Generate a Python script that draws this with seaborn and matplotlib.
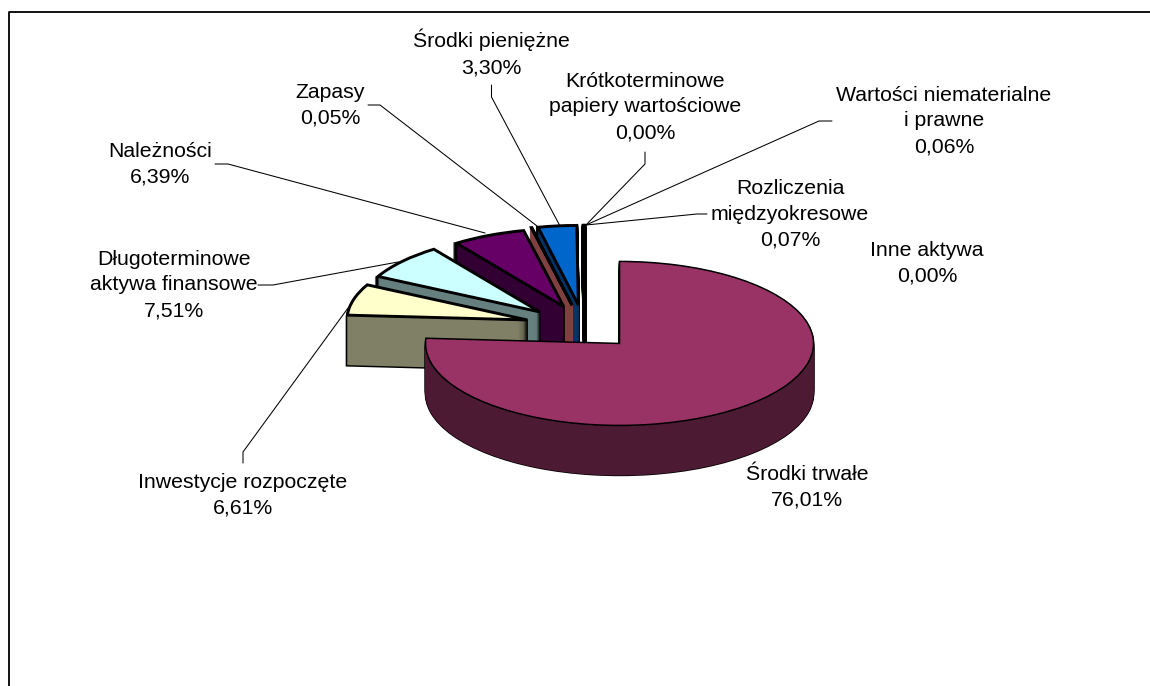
import numpy as np
import matplotlib
matplotlib.use('Agg')
import matplotlib.pyplot as plt
from matplotlib.colors import to_rgb
from matplotlib.lines import Line2D
import seaborn as sns

# values, clockwise from 12 o'clock
names = ['Środki trwałe', 'Inwestycje rozpoczęte', 'Długoterminowe\naktywa finansowe', 'Należności',
         'Zapasy', 'Środki pieniężne', 'Krótkoterminowe\npapiery wartościowe',
         'Wartości niematerialne\ni prawne', 'Rozliczenia\nmiędzyokresowe', 'Inne aktywa']
shares = [76.01, 6.61, 7.51, 6.39, 0.05, 3.30, 0.00, 0.06, 0.07, 0.00]
colors = ['#993366', '#FFFFCC', '#CCFFFF', '#660066', '#FF8080',
          '#0066CC', '#CCCCFF', '#000080', '#FF00FF', '#FFFF00']

# label centres and leader lines, in pixels
label_pos = [(807, 487), (243, 495), (174, 285), (160, 164), (330, 105),
             (491, 53), (645, 107), (944, 121), (790, 214), (927, 263)]
leaders = [[(243, 463), (243, 452), (348, 308)],
           [(258, 285), (273, 285), (398, 262)],
           [(215, 164), (228, 164), (485, 233)],
           [(368, 105), (380, 105), (537, 226)],
           [(491.5, 85), (491.5, 97), (560, 226)],
           [(645, 152), (645, 164), (585, 226)],
           [(832, 121), (819, 121), (586, 225)],
           [(707, 214), (697, 214), (586, 225)]]

W, H = 1150, 686
CX, CY = 585, 325.5
RX, RY = 194, 82
DEPTH = 50
radii = [1.0, 0.93, 0.94, 0.95, 0.97, 0.97, 0.97, 0.97, 0.97, 0.97]
explode_x = [0.26, 0.308, 0.308, 0.27, 0.308, 0.308, 0.308, 0.308, 0.308, 0.308]
explode_y = [0.30] + [0.252] * 9
draw_order = [9, 8, 7, 6, 5, 4, 3, 2, 1, 0]
painted_sliver = [4]  # thin slice whose wall shows as a coloured strip


def pie_slice(ax, share, start, center, radius, color, edge, lw, zorder):
    wedges, _ = ax.pie([share, 100 - share], startangle=90 - start, counterclock=False,
                       center=center, radius=radius, colors=[color, 'none'], labeldistance=None,
                       wedgeprops=dict(edgecolor=edge, linewidth=lw, zorder=zorder, joinstyle='miter'))
    wedges[1].remove()


def px_line(fig, pts, lw, color='black'):
    xs = [p[0] / W for p in pts]
    ys = [1 - p[1] / H for p in pts]
    fig.add_artist(Line2D(xs, ys, transform=fig.transFigure, color=color, lw=lw))


sns.set_theme(style='white')
plt.rcParams['font.family'] = ['Liberation Sans', 'DejaVu Sans']

fig = plt.figure(figsize=(W / 100, H / 100), dpi=100)
ax = fig.add_axes([0, 0, 1, 1])

palette = sns.color_palette(colors)
walls = [tuple(np.array(to_rgb(c)) * 0.5) for c in palette]
starts = np.concatenate([[0], np.cumsum(shares)[:-1]]) * 3.6

for rank, i in enumerate(draw_order):
    mid = np.radians(starts[i] + shares[i] * 1.8)
    cx = explode_x[i] * np.sin(mid)
    cy = explode_y[i] * np.cos(mid)
    lw = 1.1 if i == 0 else 2.1
    base = rank * 10
    # side wall: outlined stack first, then the same stack filled so only the silhouette stays black
    for d in range(DEPTH, 0, -1):
        center = (cx, cy - d / RY)
        if i in painted_sliver:
            pie_slice(ax, shares[i], starts[i], center, radii[i], walls[i], walls[i], 1.5, base + 2)
        else:
            pie_slice(ax, shares[i], starts[i], center, radii[i], walls[i], 'black', lw, base + 1)
            pie_slice(ax, shares[i], starts[i], center, radii[i], walls[i], 'none', 0, base + 2)
    pie_slice(ax, shares[i], starts[i], (cx, cy), radii[i], palette[i], 'black', lw, base + 3)

ax.set_aspect('auto')
ax.set_xlim(-CX / RX, (W - CX) / RX)
ax.set_ylim((CY - H) / RY, CY / RY)
ax.axis('off')

for name, share, (x, y) in zip(names, shares, label_pos):
    label = name + '\n' + f'{share:.2f}'.replace('.', ',') + '%'
    fig.text(x / W, 1 - y / H, label, ha='center', va='center', ma='center',
             fontsize=15.3, linespacing=1.44, color='black')

for pts in leaders:
    px_line(fig, pts, 0.75)

# chart frame: only the top and left edges are inside the picture
px_line(fig, [(8.5, H), (8.5, 11.5), (W, 11.5)], 1.3)

fig.savefig('out.png', dpi=100)
